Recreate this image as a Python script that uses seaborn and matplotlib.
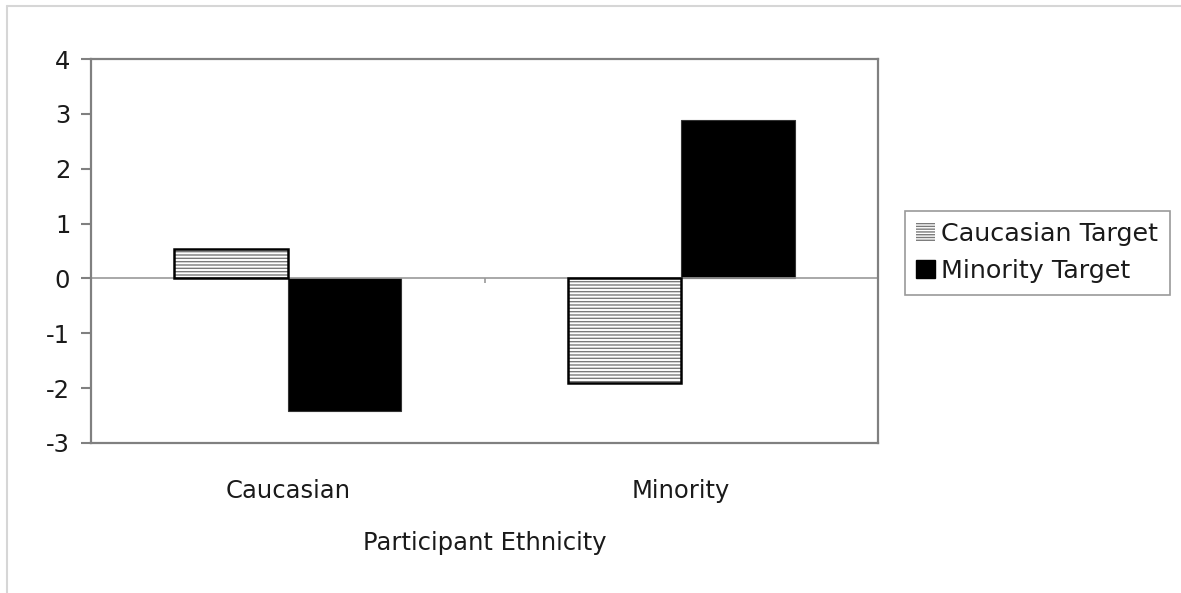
import matplotlib
matplotlib.use("Agg")
import matplotlib.pyplot as plt
import matplotlib.patches as mpatches
from matplotlib.lines import Line2D
import seaborn as sns
import pandas as pd

# Mean scores by participant ethnicity and target ethnicity
participant = ["Caucasian", "Minority"]
caucasian_target = [0.54, -1.90]
minority_target = [-2.42, 2.89]
targets = ["Caucasian Target", "Minority Target"]
y_ticks = [-3, -2, -1, 0, 1, 2, 3, 4]

df = pd.DataFrame({
    "Participant Ethnicity": participant * 2,
    "Target": [targets[0]] * 2 + [targets[1]] * 2,
    "Score": caucasian_target + minority_target,
})

sns.set_theme(style="white")
plt.rcParams["font.family"] = ["DejaVu Sans"]
plt.rcParams["hatch.linewidth"] = 1.0
plt.rcParams["hatch.color"] = "#7a7a7a"

FS = 17.5
TXT = "#1a1a1a"

fig = plt.figure(figsize=(11.81, 5.93), dpi=100)
ax = fig.add_axes([0.0771, 0.2530, 0.6663, 0.6475])

sns.barplot(data=df, x="Participant Ethnicity", y="Score", hue="Target",
            hue_order=targets, order=participant, palette=["white", "black"],
            width=0.577, gap=0, saturation=1, legend=False, ax=ax)

grey = "#808080"
outlines = []
for bar in ax.patches:
    if bar.get_facecolor()[0] > 0.5:
        # striped bar: grey hatch inside, black outline drawn on top
        bar.set_hatch("-----")
        bar.set_edgecolor("#7a7a7a")
        bar.set_linewidth(0)
        outline = mpatches.Rectangle(bar.get_xy(), bar.get_width(), bar.get_height(),
                                     fill=False, edgecolor="black", linewidth=1.8, zorder=3)
        outlines.append(outline)
    else:
        bar.set_edgecolor("#333333")
        bar.set_linewidth(0.8)
for o in outlines:
    ax.add_patch(o)

ax.set_ylim(-3, 4)
ax.set_xlim(-0.5, 1.5)
ax.set_yticks(y_ticks)
ax.set_yticklabels([str(t) for t in y_ticks], fontsize=FS, color=TXT)
ax.tick_params(axis="y", which="major", left=True, length=7, width=1.5,
               color=grey, pad=8, direction="out")
ax.tick_params(axis="x", length=0, pad=26, labelsize=FS, labelcolor=TXT)
ax.set_xlabel("Participant Ethnicity", fontsize=FS, labelpad=20, color=TXT)
ax.set_ylabel("")

for s in ax.spines.values():
    s.set_visible(True)
    s.set_color(grey)
    s.set_linewidth(1.6)

# horizontal axis through zero with a category-boundary tick
ax.axhline(0, color="#999999", linewidth=1.2, zorder=1)
ax.vlines(0.5, -0.09, 0, color="#999999", linewidth=1.2, zorder=1)

handles = [
    mpatches.Patch(facecolor="white", edgecolor="#7a7a7a", hatch="------", linewidth=0),
    mpatches.Patch(facecolor="black", edgecolor="black"),
]
leg = fig.legend(handles, targets, loc="upper left",
                 bbox_to_anchor=(905 / 1181, 1 - 211 / 593),
                 fontsize=18.3, frameon=True, fancybox=False,
                 handlelength=0.72, handleheight=0.72, handletextpad=0.25,
                 borderpad=0.45, labelspacing=0.5, borderaxespad=0)
leg.get_frame().set_edgecolor(grey)
leg.get_frame().set_linewidth(1.2)
for t in leg.get_texts():
    t.set_color(TXT)

# light outer border along the top and left edges
fig.add_artist(Line2D([7 / 1181, 1], [1 - 6 / 593, 1 - 6 / 593],
                      transform=fig.transFigure, color="#d6d6d6", linewidth=1.5))
fig.add_artist(Line2D([7 / 1181, 7 / 1181], [0, 1 - 6 / 593],
                      transform=fig.transFigure, color="#d6d6d6", linewidth=1.5))

fig.savefig("out.png", dpi=100, facecolor="white")
